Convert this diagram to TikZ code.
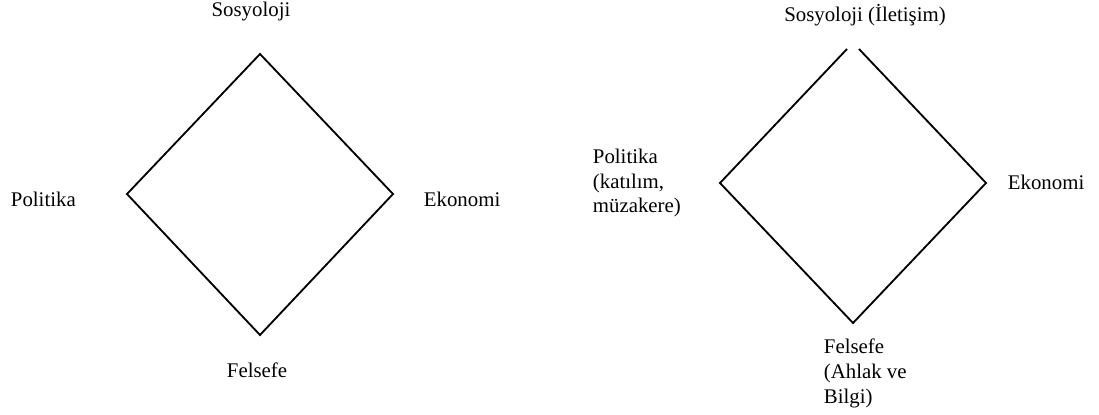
\documentclass[tikz,border=0pt]{standalone}
\usepackage{fontspec}
\setmainfont{Liberation Serif}
\usepackage{tikz}

\begin{document}
\begin{tikzpicture}[x=0.6pt, y=-0.6pt, line width=1.1pt,
    lbl/.style = {inner sep=0pt, font=\fontsize{12.5pt}{14.8pt}\selectfont},
    mlbl/.style = {lbl, align=left, anchor=base west}]
    \useasboundingbox (0,0) rectangle (1099,415);

    % left diamond
    \coordinate (t1) at (260,54);
    \coordinate (r1) at (393,194);
    \coordinate (b1) at (260,335);
    \coordinate (l1) at (127,194);

    \node[lbl, anchor=base] (sos1) at (251,17) {Sosyoloji};
    \node[lbl, anchor=base west] (pol1) at (10,206) {Politika};
    \node[lbl, anchor=base west] (eko1) at (423,206) {Ekonomi};
    \node[lbl, anchor=base] (fel1) at (257,377) {Felsefe};

\draw (t1) -- (r1) -- (b1) -- (l1) -- cycle;

    % right diamond (apex left open)
    \coordinate (ta2) at (847,49);
    \coordinate (tb2) at (859,49);
    \coordinate (r2) at (986,183);
    \coordinate (b2) at (853,323);
    \coordinate (l2) at (720,183);

    \node[lbl, anchor=base] (sos2) at (865,22) {Sosyoloji (İletişim)};
    \node[mlbl] (pol2) at (592,213) {Politika\\(katılım,\\müzakere)};
    \node[lbl, anchor=base west] (eko2) at (1007,189) {Ekonomi};
    \node[mlbl] (fel2) at (823,403) {Felsefe\\(Ahlak ve\\Bilgi)};

\draw (ta2) -- (l2) -- (b2) -- (r2) -- (tb2);
\end{tikzpicture}
\end{document}
